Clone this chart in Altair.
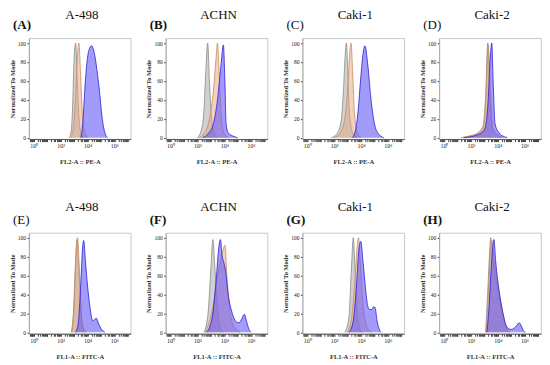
import math
import altair as alt
import pandas as pd

# ---------------- text ----------------
cell_lines = ["A-498", "ACHN", "Caki-1", "Caki-2"]
letters_top = ["(A)", "(B)", "(C)", "(D)"]
letters_bottom = ["(E)", "(F)", "(G)", "(H)"]
x_title_top = "FL2-A :: PE-A"
x_title_bottom = "FL1-A :: FITC-A"
y_title = "Normalized To Mode"
tick_values = [0, 2, 4, 6]
tick_labels = ["10⁰", "10²", "10⁴", "10⁶"]
y_ticks = [0, 20, 40, 60, 80, 100]

# ---------------- data (x = log10 fluorescence, y = % of mode) ----------------
# Row 1: FL2-A :: PE-A
A_grey_x = [2.65, 2.8, 2.9, 3.0, 3.12, 3.22, 3.35, 3.5, 3.7]
A_grey_y = [0, 8, 35, 80, 100, 70, 25, 6, 0]
A_or_x = [2.75, 2.95, 3.1, 3.25, 3.36, 3.48, 3.62, 3.8, 4.0]
A_or_y = [0, 10, 40, 85, 100, 70, 25, 5, 0]
A_bl_x = [3.5, 3.65, 3.8, 3.95, 4.1, 4.3, 4.5, 4.7, 4.9, 5.1, 5.3, 5.5]
A_bl_y = [0, 15, 50, 78, 92, 97, 90, 72, 48, 20, 5, 0]

B_grey_x = [2.0, 2.3, 2.5, 2.65, 2.77, 2.9, 3.05, 3.25, 3.5]
B_grey_y = [0, 8, 30, 75, 100, 60, 22, 5, 0]
B_or_x = [2.1, 2.5, 2.9, 3.2, 3.4, 3.5, 3.62, 3.8, 4.0, 4.3]
B_or_y = [0, 4, 20, 50, 85, 100, 70, 20, 4, 0]
B_bl_x = [2.4, 2.8, 3.2, 3.5, 3.75, 3.94, 4.04, 4.14, 4.3, 4.6, 5.0]
B_bl_y = [0, 4, 15, 40, 75, 98, 65, 15, 5, 2, 0]

C_grey_x = [1.8, 2.2, 2.5, 2.7, 2.82, 2.92, 3.02, 3.15, 3.4, 3.7]
C_grey_y = [0, 4, 15, 50, 85, 100, 70, 25, 5, 0]
C_or_x = [2.0, 2.5, 2.85, 3.05, 3.17, 3.26, 3.38, 3.52, 3.75, 4.0]
C_or_y = [0, 6, 25, 60, 90, 100, 70, 25, 5, 0]
C_bl_x = [3.35, 3.6, 3.8, 3.98, 4.15, 4.3, 4.5, 4.75, 5.0, 5.3, 5.7]
C_bl_y = [0, 8, 30, 62, 88, 97, 78, 40, 15, 4, 0]

D_grey_x = [1.3, 2.0, 2.5, 2.9, 3.1, 3.26, 3.4, 3.6, 3.9, 4.3]
D_grey_y = [0, 2, 4, 10, 40, 100, 50, 10, 3, 0]
D_or_x = [1.3, 2.0, 2.5, 2.9, 3.12, 3.3, 3.45, 3.65, 4.0, 4.4]
D_or_y = [0, 2, 5, 12, 45, 98, 50, 10, 3, 0]
D_bl_x = [1.5, 2.0, 2.5, 3.0, 3.25, 3.45, 3.56, 3.66, 3.8, 4.1, 4.5, 4.7]
D_bl_y = [0, 1, 3, 8, 30, 85, 100, 60, 15, 5, 1, 0]

# Row 2: FL1-A :: FITC-A
E_grey_x = [2.8, 2.95, 3.1, 3.22, 3.35, 3.5, 3.65, 3.8]
E_grey_y = [0, 20, 70, 98, 70, 25, 5, 0]
E_or_x = [2.85, 3.0, 3.15, 3.26, 3.4, 3.55, 3.7, 3.9]
E_or_y = [0, 25, 80, 100, 65, 20, 4, 0]
E_bl_x = [3.1, 3.3, 3.5, 3.64, 3.72, 3.85, 4.0, 4.2, 4.4, 4.55, 4.65, 4.8, 5.0, 5.3]
E_bl_y = [0, 8, 50, 90, 97, 75, 50, 25, 12, 14, 15, 10, 4, 0]

F_grey_x = [2.5, 2.8, 3.0, 3.16, 3.3, 3.5, 3.7, 3.9]
F_grey_y = [0, 20, 65, 98, 70, 25, 6, 0]
F_or_x = [2.6, 3.2, 3.5, 3.8, 4.06, 4.2, 4.4, 4.6, 4.9, 5.2]
F_or_y = [0, 30, 60, 80, 92, 60, 25, 10, 3, 0]
F_bl_x = [2.7, 3.1, 3.4, 3.6, 3.72, 3.85, 3.95, 4.1, 4.3, 4.6, 4.9, 5.1, 5.3, 5.5, 5.65, 5.85, 6.0]
F_bl_y = [0, 15, 55, 90, 98, 80, 75, 65, 40, 20, 11, 10, 14, 19, 12, 3, 0]

G_grey_x = [2.8, 3.1, 3.3, 3.43, 3.55, 3.7, 3.9, 4.05]
G_grey_y = [0, 15, 70, 100, 70, 25, 5, 0]
G_or_x = [3.0, 3.3, 3.55, 3.75, 3.82, 3.95, 4.15, 4.35, 4.6, 4.8]
G_or_y = [0, 15, 55, 95, 100, 75, 30, 10, 2, 0]
G_bl_x = [3.1, 3.4, 3.65, 3.85, 3.99, 4.15, 4.35, 4.5, 4.65, 4.8, 4.95, 5.05, 5.2, 5.4, 5.5]
G_bl_y = [0, 10, 45, 88, 96, 75, 45, 28, 24, 24, 27, 26, 12, 2, 0]

H_grey_x = [3.1, 3.25, 3.4, 3.48, 3.6, 3.8, 4.0, 4.2, 4.4, 4.6, 4.8]
H_grey_y = [0, 40, 85, 100, 80, 60, 45, 28, 15, 5, 0]
H_or_x = [3.15, 3.3, 3.45, 3.55, 3.7, 3.9, 4.1, 4.3, 4.5, 4.7, 4.9]
H_or_y = [0, 40, 85, 97, 80, 60, 42, 25, 12, 4, 0]
H_bl_x = [3.2, 3.35, 3.55, 3.72, 3.85, 4.0, 4.2, 4.4, 4.6, 4.8, 5.0, 5.2, 5.4, 5.6, 5.75, 5.9, 6.05]
H_bl_y = [0, 25, 75, 98, 75, 55, 35, 20, 8, 4, 3, 4, 7, 10, 7, 2, 0]

panels_top = [
    [(A_grey_x, A_grey_y), (A_or_x, A_or_y), (A_bl_x, A_bl_y)],
    [(B_grey_x, B_grey_y), (B_or_x, B_or_y), (B_bl_x, B_bl_y)],
    [(C_grey_x, C_grey_y), (C_or_x, C_or_y), (C_bl_x, C_bl_y)],
    [(D_grey_x, D_grey_y), (D_or_x, D_or_y), (D_bl_x, D_bl_y)],
]
panels_bottom = [
    [(E_grey_x, E_grey_y), (E_or_x, E_or_y), (E_bl_x, E_bl_y)],
    [(F_grey_x, F_grey_y), (F_or_x, F_or_y), (F_bl_x, F_bl_y)],
    [(G_grey_x, G_grey_y), (G_or_x, G_or_y), (G_bl_x, G_bl_y)],
    [(H_grey_x, H_grey_y), (H_or_x, H_or_y), (H_bl_x, H_bl_y)],
]

# ---------------- style ----------------
FONT = "Liberation Serif"
fills = ["#ababab", "#e3a57c", "#6658f6"]
strokes = ["#8a8a8a", "#c98c62", "#2b1fd6"]
fill_op = [0.55, 0.5, 0.6]
PW, PH = 102, 101
X_DOMAIN = [-0.35, 7.22]
Y_DOMAIN = [-1.5, 105]

minor = []
for n in range(-1, 8):
    for k in range(1, 10):
        v = n + math.log10(k)
        if X_DOMAIN[0] <= v <= X_DOMAIN[1]:
            minor.append(round(v, 5))

label_expr = ""
for v, lab in zip(tick_values, tick_labels):
    label_expr += f"abs(datum.value - {v}) < 0.001 ? '{lab}' : "
label_expr += "''"


def x_enc(xtitle):
    return alt.X(
        "x:Q",
        scale=alt.Scale(domain=X_DOMAIN, nice=False, zero=False),
        axis=alt.Axis(
            values=minor,
            labelExpr=label_expr,
            labelOverlap=False,
            title=xtitle,
            grid=False,
            tickSize=2.5,
            tickColor="#444",
            domainColor="#555",
            labelFont=FONT,
            labelFontSize=6,
            labelColor="#222",
            labelPadding=1,
            labelFlush=False,
            titleFont=FONT,
            titleFontSize=6.5,
            titleFontWeight="bold",
            titleColor="#333",
            titlePadding=10,
        ),
    )


def y_enc():
    return alt.Y(
        "y:Q",
        scale=alt.Scale(domain=Y_DOMAIN, nice=False),
        axis=alt.Axis(
            values=y_ticks,
            labelOverlap=False,
            title=y_title,
            grid=False,
            tickSize=2,
            tickColor="#444",
            domainColor="#aaa",
            labelFont=FONT,
            labelFontSize=5.5,
            labelColor="#222",
            labelPadding=1.5,
            titleFont=FONT,
            titleFontSize=6.5,
            titleFontWeight="bold",
            titleColor="#333",
            titlePadding=2,
        ),
    )


def panel(curves, title, letter, xtitle, letter_bold, title_y):
    layers = []
    for i, (xs, ys) in enumerate(curves):
        df = pd.DataFrame({"x": xs, "y": ys})
        base = alt.Chart(df)
        layers.append(
            base.mark_area(
                interpolate="monotone", color=fills[i], opacity=fill_op[i]
            ).encode(x=x_enc(xtitle), y=y_enc())
        )
        layers.append(
            base.mark_line(
                interpolate="monotone", color=strokes[i], strokeWidth=0.9, opacity=0.9
            ).encode(x=x_enc(xtitle), y=y_enc())
        )
    txt = pd.DataFrame({"t": [title], "l": [letter]})
    layers.append(
        alt.Chart(txt).mark_text(
            font=FONT, fontSize=13, align="center", baseline="middle", color="#111"
        ).encode(text="t:N", x=alt.value(PW / 2 + 2), y=alt.value(title_y))
    )
    layers.append(
        alt.Chart(txt).mark_text(
            font=FONT, fontSize=13, fontWeight="bold" if letter_bold else "normal",
            align="left", baseline="middle", color="#111"
        ).encode(text="l:N", x=alt.value(-16), y=alt.value(-13))
    )
    return alt.layer(*layers).properties(width=PW, height=PH)


bold_top = [True, True, False, False]
bold_bottom = [False, True, True, True]

row1 = alt.hconcat(
    *[panel(panels_top[i], cell_lines[i], letters_top[i], x_title_top, bold_top[i], -23) for i in range(4)],
    spacing=13,
)
row2 = alt.hconcat(
    *[panel(panels_bottom[i], cell_lines[i], letters_bottom[i], x_title_bottom, bold_bottom[i], -26) for i in range(4)],
    spacing=13,
)

chart = alt.vconcat(row1, row2, spacing=34).properties(
    padding={"left": 0, "top": 0, "right": 0, "bottom": 0},
    background="white",
).configure_view(stroke="#bbb", strokeWidth=0.8).configure_axis(labelOverlap=False)

chart.save("out.html", embed_options={"renderer": "svg", "actions": False})
